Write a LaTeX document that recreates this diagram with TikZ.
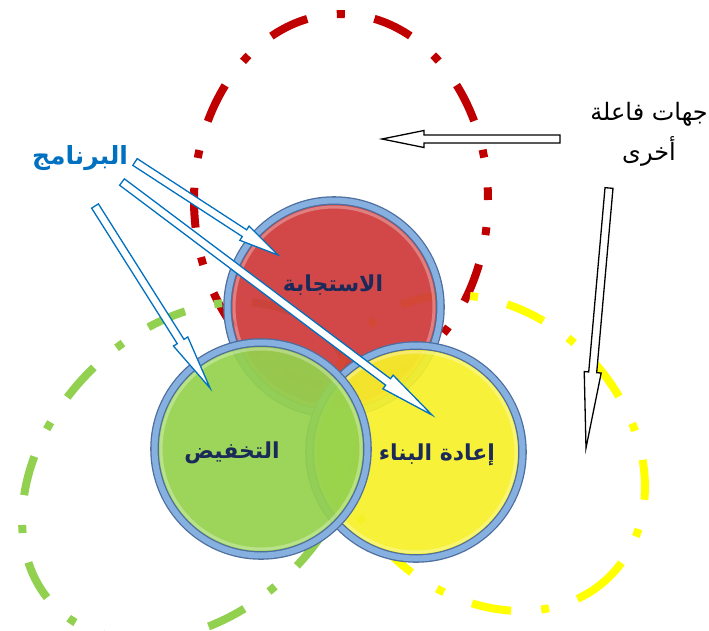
\documentclass[tikz,border=0pt]{standalone}
\usepackage{fontspec}
\usepackage{tikz}
\usetikzlibrary{calc}
\newfontfamily\arabicfont[Script=Arabic]{DejaVu Sans}
\TeXXeTstate=1

\definecolor{loopred}{HTML}{C00000}
\definecolor{loopgreen}{HTML}{92D050}
\definecolor{loopyellow}{HTML}{FFFF00}
\definecolor{ballred}{HTML}{CF3A3A}
\definecolor{ballgreen}{HTML}{94D24E}
\definecolor{ballyellow}{HTML}{F6F02A}
\definecolor{ringlight}{HTML}{86B0E0}
\definecolor{ringdark}{HTML}{4E6E9E}
\definecolor{labelnavy}{HTML}{1B2A58}
\definecolor{progblue}{HTML}{0070C0}

\tikzset{
  loopline/.style={line width=8pt, dash pattern=on 40pt off 30pt on 8pt off 30pt},
  ball/.style={circle, inner sep=0pt, minimum size=213pt, draw=ringdark,
    double=ringlight, double distance=6pt, line width=1.3pt, fill opacity=0.93},
  balltext/.style={font=\arabicfont\bfseries\fontsize{22}{26}\selectfont, text=labelnavy}
}

\newcommand{\blockarrow}[4][black]{%
  \coordinate (ah) at ($(#3)!#4!(#2)$);
  \draw[#1, fill=white, line width=1.3pt]
    ($(#2)!4pt!90:(#3)$) -- ($(ah)!4pt!90:(#3)$) -- ($(ah)!8.5pt!90:(#3)$) -- (#3)
    -- ($(ah)!8.5pt!-90:(#3)$) -- ($(ah)!4pt!-90:(#3)$) -- ($(#2)!4pt!-90:(#3)$) -- cycle;}

\begin{document}
\begin{tikzpicture}[x=1pt, y=-1pt]
  \useasboundingbox (0,0) rectangle (709,630);

  \draw[loopline, loopred, dash phase=42.8pt] (341,200) ellipse [x radius=147, y radius=186];
  \draw[loopline, loopgreen, rotate around={45:(191,471)}] (191,471) ellipse [x radius=192, y radius=142];
  \draw[loopline, loopyellow, rotate around={-45:(487,453)}] (487,453) ellipse [x radius=174, y radius=140];

  \node[ball, fill=ballred] (resp) at (334,307) {};
  \draw[white, opacity=.3, line width=3pt] (resp) circle[radius=100];
  \node[ball, fill=ballyellow] (rebuild) at (416,452) {};
  \draw[white, opacity=.3, line width=3pt] (rebuild) circle[radius=100];
  \node[ball, fill=ballgreen] (reduce) at (261,449) {};
  \draw[white, opacity=.3, line width=3pt] (reduce) circle[radius=100];

  \node[balltext] (resp-t) at (333,285) {\beginR الاستجابة\endR};
  \node[balltext] (reduce-t) at (232,453) {\beginR التخفيض\endR};
  \node[balltext] (rebuild-t) at (437,455) {\beginR إعادة البناء\endR};

  \node[font=\arabicfont\bfseries\fontsize{25}{30}\selectfont, text=progblue] (prog) at (80,158) {\beginR البرنامج\endR};
  \node[font=\arabicfont\fontsize{24}{40}\selectfont, align=center] (others) at (649,134)
    {\beginR جهات فاعلة\endR\\\beginR أخرى\endR};

  \coordinate (prog-a) at (135,162);
  \coordinate (prog-b) at (122,182);
  \coordinate (prog-c) at (95,206);
  \coordinate (resp-in) at (278,255);
  \coordinate (rebuild-in) at (432,415);
  \coordinate (reduce-in) at (210,388);
  \coordinate (others-a) at (560,139);
  \coordinate (others-b) at (609,188);
  \coordinate (redloop-in) at (382,139);
  \coordinate (yellowloop-in) at (586,448);

  \blockarrow[progblue]{prog-a}{resp-in}{40pt}
  \blockarrow[progblue]{prog-b}{rebuild-in}{55pt}
  \blockarrow[progblue]{prog-c}{reduce-in}{55pt}
  \blockarrow{others-a}{redloop-in}{42pt}
  \blockarrow{others-b}{yellowloop-in}{76pt}
\end{tikzpicture}
\end{document}
